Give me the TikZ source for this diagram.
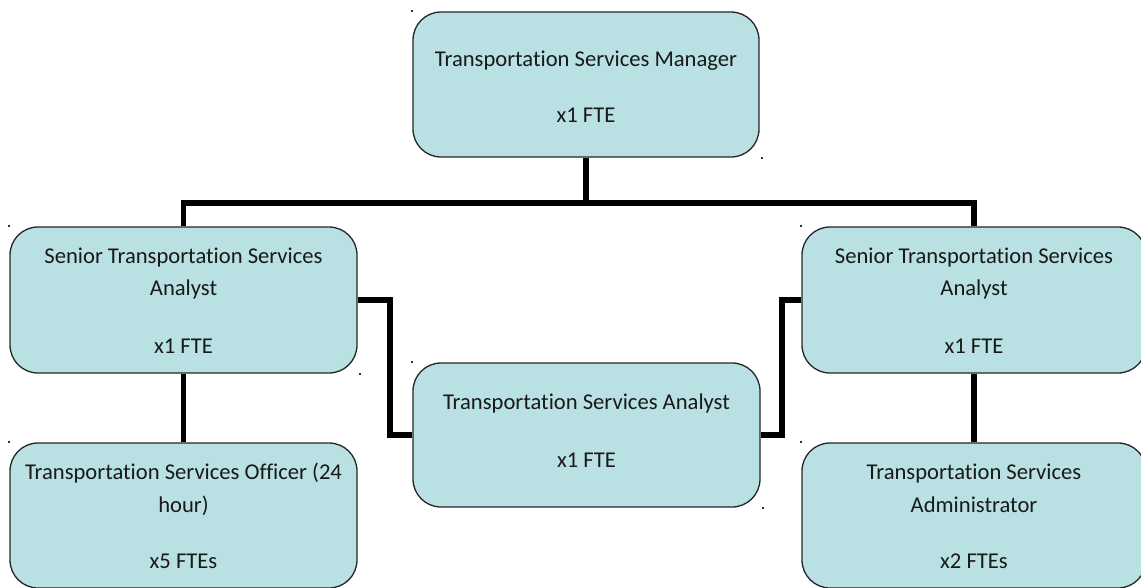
\documentclass[tikz,border=0pt]{standalone}
\usepackage{fontspec}
\setmainfont{Carlito}[Ligatures=NoCommon]
\usetikzlibrary{backgrounds}
\definecolor{boxfill}{RGB}{185,224,227}
\begin{document}
\begin{tikzpicture}[x=1pt,y=-1pt,
  box/.style={draw=black!85, line width=1.3pt, fill=boxfill,
    rounded corners=28pt, inner sep=0pt},
  link/.style={line width=5.5pt},
  lbl/.style={anchor=base, inner sep=0pt,
    font=\fontsize{22.6}{27}\selectfont, text=black!90},
  cornerdot/.style={fill=black!80, inner sep=0pt, minimum size=1.8pt}]
\useasboundingbox (0,0) rectangle (1141,587);

% positions
\node[box, minimum width=346pt, minimum height=145pt] (mgr) at (586,84.5) {};
\node[box, minimum width=347pt, minimum height=146pt] (sl)  at (183.5,300) {};
\node[box, minimum width=344pt, minimum height=146pt] (sr)  at (974,300) {};
\node[box, minimum width=347pt, minimum height=145pt] (off) at (183.5,515.5) {};
\node[box, minimum width=347pt, minimum height=144pt] (mid) at (586.5,435) {};
\node[box, minimum width=344pt, minimum height=145pt] (adm) at (974,515.5) {};

% labels
\node[lbl] (mgrA) at (586,66)  {Transportation Services Manager};
\node[lbl] (mgrB) at (586,122) {x1 FTE};

\node[lbl] (slA) at (183.5,263) {Senior Transportation Services};
\node[lbl] (slB) at (183.5,295) {Analyst};
\node[lbl] (slC) at (183.5,353) {x1 FTE};

\node[lbl] (srA) at (974,263) {Senior Transportation Services};
\node[lbl] (srB) at (974,295) {Analyst};
\node[lbl] (srC) at (974,353) {x1 FTE};

\node[lbl] (offA) at (183.5,479) {Transportation Services Officer (24};
\node[lbl] (offB) at (183.5,512) {hour)};
\node[lbl] (offC) at (183.5,568) {x5 FTEs};

\node[lbl] (midA) at (586.5,409) {Transportation Services Analyst};
\node[lbl] (midB) at (586.5,467) {x1 FTE};

\node[lbl] (admA) at (974,479) {Transportation Services};
\node[lbl] (admB) at (974,512) {Administrator};
\node[lbl] (admC) at (974,568) {x2 FTEs};

% small corner marks
\foreach \b in {mgr,sl,sr,off,mid,adm}
  \node[cornerdot] at (\b.north west) {};
\foreach \b in {mgr,sl,mid}
  \node[cornerdot] at ([xshift=2pt]\b.south east) {};

% connectors
\coordinate (bus) at (586,203);
\coordinate (lbend) at (390,300);
\coordinate (rbend) at (782,435);
\begin{pgfonlayer}{background}
  \draw[link] (mgr.south) -- (bus);
  \draw[link] (bus) -| (sl.north);
  \draw[link] (bus) -| (sr.north);
  \draw[link] (sl.south) -- (off.north);
  \draw[link] (sr.south) -- (adm.north);
  \draw[link] (sl.east) -- (lbend) |- (mid.west);
  \draw[link] (mid.east) -- (rbend) |- (sr.west);
\end{pgfonlayer}
\end{tikzpicture}
\end{document}
